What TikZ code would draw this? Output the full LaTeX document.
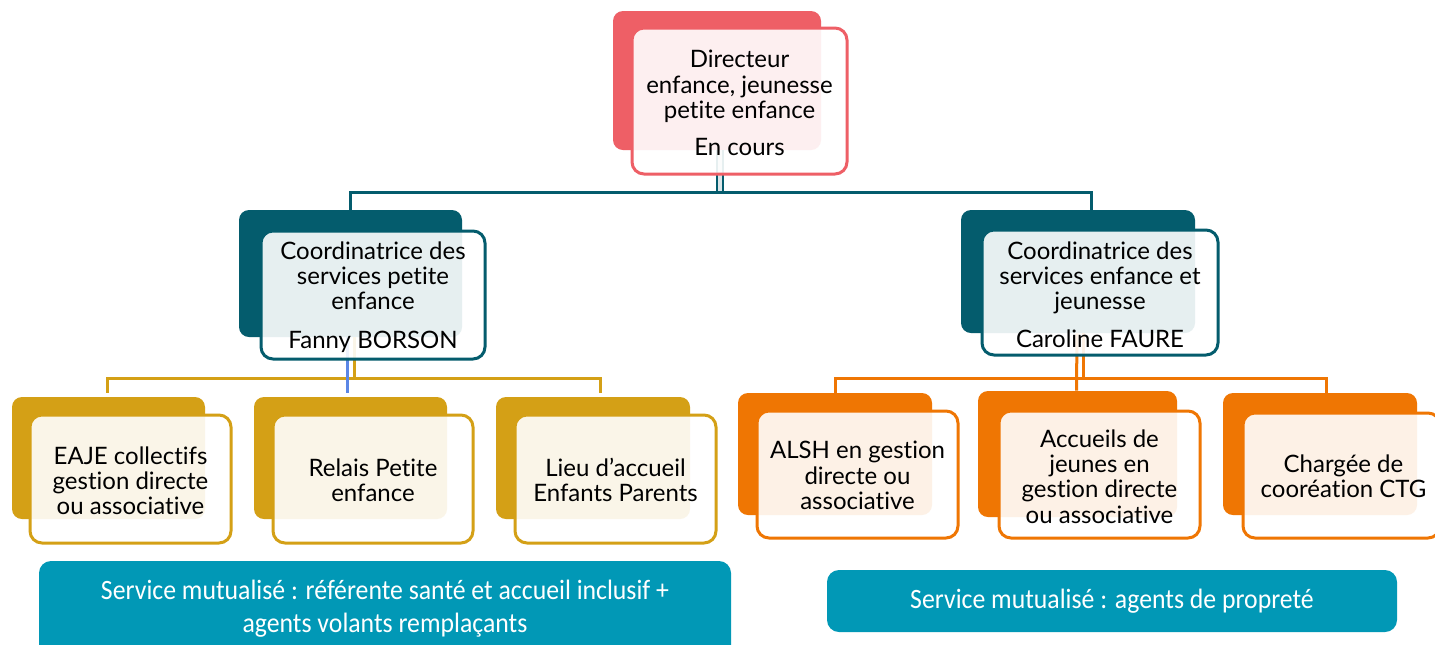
\documentclass[tikz,border=0pt]{standalone}
\usepackage{fontspec}
\newfontfamily\lato[Ligatures=NoCommon]{Lato}
\newfontfamily\carl[FakeStretch=0.92]{Carlito}
\usetikzlibrary{fit,calc}
\definecolor{cred}{HTML}{EE5F66}
\definecolor{cteal}{HTML}{045C6D}
\definecolor{cgold}{HTML}{D4A016}
\definecolor{corange}{HTML}{EF7603}
\definecolor{csvc}{HTML}{0198B6}
\definecolor{cblueline}{HTML}{5B87E6}
\definecolor{cgap}{HTML}{DDE6E9}
\begin{document}
\begin{tikzpicture}[x=0.5pt,y=-0.5pt,
  back/.style={inner sep=0pt, rounded corners=5pt, fill=#1, draw=none},
  front/.style={inner sep=0pt, rounded corners=6pt, fill=white, fill opacity=0.9, draw=#1, draw opacity=1, line width=1.5pt},
  lbl/.style={font=\lato\fontsize{12}{12.6}\selectfont, align=center, text=black, inner sep=0pt},
  conn/.style={line width=1.5pt, draw=#1},
  svc/.style={inner sep=0pt, rounded corners=6pt, fill=csvc, draw=none},
  svct/.style={font=\carl\fontsize{14}{16.5}\selectfont, text=white, align=center, inner sep=0pt}]
\useasboundingbox (0,0) rectangle (1435,644);
\fill[white] (0,0) rectangle (1435,644);

% back boxes
\node[back=cred, fit={(613,11)(821,150)}] (dirB) {};
\node[back=cteal, fit={(239,210)(462,337)}] (cLB) {};
\node[back=cteal, fit={(961,210)(1195,333)}] (cRB) {};
\node[back=cgold, fit={(12,397)(205,519)}] (e1B) {};
\node[back=cgold, fit={(254,397)(447,519)}] (e2B) {};
\node[back=cgold, fit={(496,397)(690,519)}] (e3B) {};
\node[back=corange, fit={(738,393)(932,515)}] (a1B) {};
\node[back=corange, fit={(978,391)(1177,517)}] (a2B) {};
\node[back=corange, fit={(1223,393)(1417,515)}] (a3B) {};

% connectors
\coordinate (hubT) at (720,192);
\coordinate (hubL) at (354,378);
\coordinate (hubR) at (1083,378);
\draw[line width=1.2pt, draw=cteal, double=cgap, double distance=2pt] ($(dirB.south)+(3,0)$) -- ($(hubT)+(0,-1)$);
\draw[conn=cteal] (cLB.north) |- (hubT) -| ($(cRB.north)+(13,0)$);
\draw[conn=cgold] ($(cLB.south)+(3.5,0)$) -- (hubL);
\draw[conn=cgold] ($(e1B.north)+(-1,-4)$) |- (hubL) -| ($(e3B.north)+(7,-4)$);
\draw[conn=cblueline] ($(cLB.south)+(-3.5,0)$) -- ($(e2B.north)+(-3.5,-4)$);
\draw[conn=corange] ($(cRB.south)+(5,0)$) -- (hubR);
\draw[conn=corange] (a1B.north) |- (hubR) -| ($(a3B.north)+(6,0)$);
\draw[conn=corange] ($(cRB.south)+(-1,0)$) -- ($(a2B.north)+(-1,0)$);

% front boxes
\node[front=cred, fit={(632,28)(847,174)}] (dirF) {};
\node[front=cteal, fit={(261,231)(485,359)}] (cLF) {};
\node[front=cteal, fit={(982,230)(1218,355)}] (cRF) {};
\node[front=cgold, fit={(30,415)(231,543)}] (e1F) {};
\node[front=cgold, fit={(273,415)(473,543)}] (e2F) {};
\node[front=cgold, fit={(515,415)(716,543)}] (e3F) {};
\node[front=corange, fit={(757,411)(958,538)}] (a1F) {};
\node[front=corange, fit={(999,411)(1200,538)}] (a2F) {};
\node[front=corange, fit={(1243,413)(1440,538)}] (a3F) {};

% texts
\node[lbl] (dirT) at ($(dirF.center)+(0,2)$) {Directeur\\enfance, jeunesse\\petite enfance\\[6pt]En cours};
\node[lbl] (cLT) at ($(cLF.center)+(0,2)$) {Coordinatrice des\\services petite\\enfance\\[6.5pt]Fanny BORSON};
\node[lbl] (cRT) at ($(cRF.center)+(0,2)$) {Coordinatrice des\\services enfance et\\jeunesse\\[6pt]Caroline FAURE};
\node[lbl] (e1T) at ($(e1F.center)+(0,2)$) {EAJE collectifs\\gestion directe\\ou associative};
\node[lbl] (e2T) at ($(e2F.center)+(0,1)$) {Relais Petite\\enfance};
\node[lbl] (e3T) at ($(e3F.center)+(0,1)$) {Lieu d’accueil\\Enfants Parents};
\node[lbl] (a1T) at ($(a1F.center)+(0,1)$) {ALSH en gestion\\directe ou\\associative};
\node[lbl] (a2T) at ($(a2F.center)+(0,2)$) {Accueils de\\jeunes en\\gestion directe\\ou associative};
\node[lbl] (a3T) at ($(a3F.center)+(2,1)$) {Chargée de\\cooréation CTG};

% shared services
\node[svc, fit={(39,561)(731,660)}] (svcL) {};
\node[svct] (svcLT) at (385,609) {Service mutualisé : référente santé et accueil inclusif +\\agents volants remplaçants};
\node[svc, fit={(827,570)(1397,632)}] (svcR) {};
\node[svct] (svcRT) at (svcR.center) {Service mutualisé : agents de propreté};
\end{tikzpicture}
\end{document}
